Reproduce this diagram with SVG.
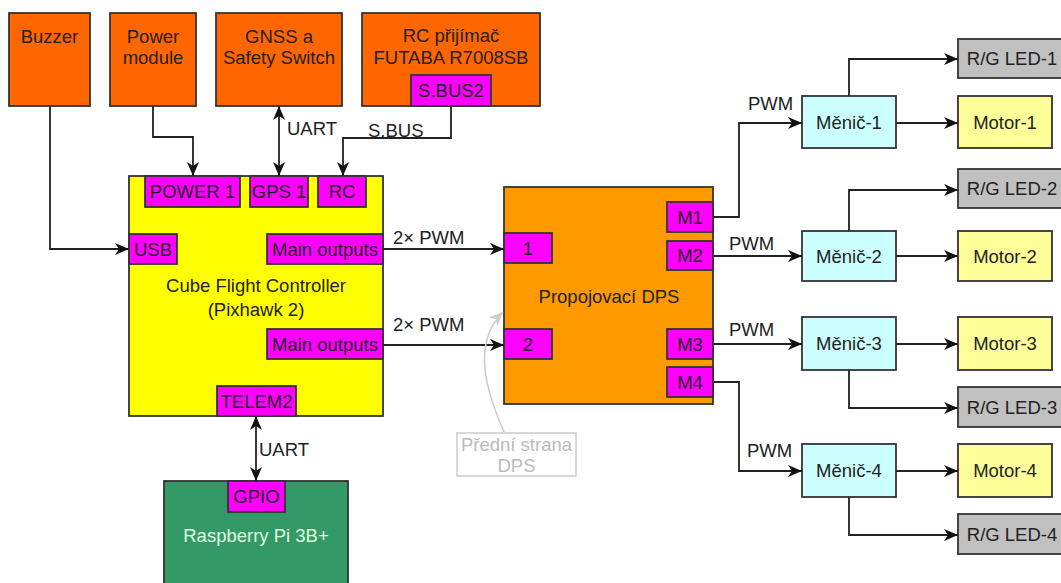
<svg xmlns="http://www.w3.org/2000/svg" width="1061" height="583" viewBox="0 0 1061 583">
<defs>
<style>
text{font-family:"Liberation Sans",Arial,sans-serif;font-size:18.5px;fill:#222;text-anchor:middle}
.box{stroke:#333;stroke-width:1.8}
.or{fill:#ff6600}
.port{fill:#ff00ff;stroke:#333;stroke-width:1.8}
.men{fill:#ccffff;stroke:#333;stroke-width:1.8}
.mot{fill:#ffff99;stroke:#333;stroke-width:1.8}
.led{fill:#c0c0c0;stroke:#333;stroke-width:1.8}
.c{fill:none;stroke:#222;stroke-width:1.8}
.lbl{text-anchor:start}
</style>
<marker id="arr" viewBox="0 0 14 12" refX="14" refY="6" markerWidth="14" markerHeight="12" orient="auto-start-reverse" markerUnits="userSpaceOnUse"><path d="M0,0 L14,6 L0,12 L4,6 Z" fill="#111"/></marker>
<marker id="garr" viewBox="0 0 14 12" refX="14" refY="6" markerWidth="14" markerHeight="12" orient="auto" markerUnits="userSpaceOnUse"><path d="M0,0 L14,6 L0,12 L4,6 Z" fill="#ccc"/></marker>
</defs>
<rect width="1061" height="583" fill="#fff"/>

<g id="buzzer"><rect class="box or" x="9" y="13" width="81" height="93"/><text x="49.5" y="43">Buzzer</text></g>
<g id="power-module"><rect class="box or" x="110" y="13" width="86" height="93"/><text x="153" y="43">Power</text><text x="153" y="64">module</text></g>
<g id="gnss"><rect class="box or" x="216" y="13" width="126" height="93"/><text x="279" y="43">GNSS a</text><text x="279" y="64">Safety Switch</text></g>
<g id="rc-receiver"><rect class="box or" x="362" y="13" width="178" height="93"/><text x="451" y="42">RC přijímač</text><text x="451" y="64">FUTABA R7008SB</text>
<rect class="port" x="411" y="75" width="80" height="31"/><text x="451" y="97">S.BUS2</text></g>

<g id="cube">
<rect class="box" fill="#ffff00" x="129" y="176" width="254" height="240"/>
<text x="256" y="292">Cube Flight Controller</text><text x="256" y="316">(Pixhawk 2)</text>
<rect class="port" x="145" y="176" width="95" height="31"/><text x="192.5" y="198">POWER 1</text>
<rect class="port" x="250" y="176" width="58" height="31"/><text x="279" y="198">GPS 1</text>
<rect class="port" x="318" y="176" width="48" height="31"/><text x="342" y="198">RC</text>
<rect class="port" x="129" y="234" width="48" height="30"/><text x="153" y="255.5">USB</text>
<rect class="port" x="267" y="234" width="116" height="30"/><text x="325" y="255.5">Main outputs</text>
<rect class="port" x="267" y="329" width="116" height="30"/><text x="325" y="350.5">Main outputs</text>
<rect class="port" x="217" y="386" width="79" height="30"/><text x="256.5" y="407.5">TELEM2</text>
</g>

<g id="dps">
<rect class="box" fill="#ff9900" x="504" y="187" width="209" height="217"/>
<text x="609" y="303">Propojovací DPS</text>
<rect class="port" x="504" y="233" width="48" height="30"/><text x="528" y="254.5">1</text>
<rect class="port" x="504" y="329" width="48" height="30"/><text x="528" y="350.5">2</text>
<rect class="port" x="667" y="202" width="46" height="30"/><text x="690" y="223.5">M1</text>
<rect class="port" x="667" y="241" width="46" height="29"/><text x="690" y="262">M2</text>
<rect class="port" x="667" y="329" width="46" height="30"/><text x="690" y="350.5">M3</text>
<rect class="port" x="667" y="367" width="46" height="30"/><text x="690" y="388.5">M4</text>
</g>

<g id="raspberry">
<rect class="box" fill="#339966" x="164" y="481" width="184" height="110"/>
<text x="256" y="542" style="fill:#ddffdd">Raspberry Pi 3B+</text>
<rect class="port" x="228" y="481" width="57" height="31"/><text x="256.5" y="503">GPIO</text>
</g>

<g id="menic-1"><rect class="men" x="802" y="96" width="94" height="52"/><text x="849" y="129">Měnič-1</text></g>
<g id="menic-2"><rect class="men" x="802" y="231" width="94" height="50"/><text x="849" y="262.5">Měnič-2</text></g>
<g id="menic-3"><rect class="men" x="802" y="317" width="94" height="53"/><text x="849" y="350">Měnič-3</text></g>
<g id="menic-4"><rect class="men" x="802" y="444" width="94" height="53"/><text x="849" y="477">Měnič-4</text></g>
<g id="motor-1"><rect class="mot" x="958" y="96" width="94" height="52"/><text x="1005" y="129">Motor-1</text></g>
<g id="motor-2"><rect class="mot" x="958" y="231" width="94" height="50"/><text x="1005" y="262.5">Motor-2</text></g>
<g id="motor-3"><rect class="mot" x="958" y="317" width="94" height="53"/><text x="1005" y="350">Motor-3</text></g>
<g id="motor-4"><rect class="mot" x="958" y="444" width="94" height="53"/><text x="1005" y="477">Motor-4</text></g>
<g id="led-1"><rect class="led" x="958" y="39" width="110" height="39"/><text x="1012" y="65">R/G LED-1</text></g>
<g id="led-2"><rect class="led" x="958" y="169" width="110" height="39"/><text x="1012" y="195">R/G LED-2</text></g>
<g id="led-3"><rect class="led" x="958" y="387" width="110" height="40"/><text x="1012" y="414">R/G LED-3</text></g>
<g id="led-4"><rect class="led" x="958" y="514" width="110" height="40"/><text x="1012" y="541">R/G LED-4</text></g>

<g id="note"><rect x="457" y="433" width="119" height="43" fill="#fff" stroke="#ccc" stroke-width="1.5"/>
<text x="516.5" y="451" style="fill:#bbb">Přední strana</text><text x="516.5" y="472" style="fill:#bbb">DPS</text></g>

<g id="connectors">
<path class="c" d="M50,106 V249 H129" marker-end="url(#arr)"/>
<path class="c" d="M153,106 V137 H193 V176" marker-end="url(#arr)"/>
<path class="c" d="M279,106 V176" marker-start="url(#arr)" marker-end="url(#arr)"/>
<path class="c" d="M451,106 V138 H343 V176" marker-end="url(#arr)"/>
<path class="c" d="M383,249 H504" marker-end="url(#arr)"/>
<path class="c" d="M383,345 H504" marker-end="url(#arr)"/>
<path class="c" d="M256,416 V481" marker-start="url(#arr)" marker-end="url(#arr)"/>
<path class="c" d="M713,217 H739 V123 H802" marker-end="url(#arr)"/>
<path class="c" d="M713,256 H802" marker-end="url(#arr)"/>
<path class="c" d="M713,344 H802" marker-end="url(#arr)"/>
<path class="c" d="M713,382 H739 V471 H802" marker-end="url(#arr)"/>
<path class="c" d="M896,123 H958" marker-end="url(#arr)"/>
<path class="c" d="M896,256 H958" marker-end="url(#arr)"/>
<path class="c" d="M896,344 H958" marker-end="url(#arr)"/>
<path class="c" d="M896,471 H958" marker-end="url(#arr)"/>
<path class="c" d="M849,96 V59 H958" marker-end="url(#arr)"/>
<path class="c" d="M849,231 V190 H958" marker-end="url(#arr)"/>
<path class="c" d="M849,370 V408 H958" marker-end="url(#arr)"/>
<path class="c" d="M849,497 V535 H958" marker-end="url(#arr)"/>
<path d="M504,432 C488,395 470,345 503,312" fill="none" stroke="#ccc" stroke-width="1.6" marker-end="url(#garr)"/>
<text class="lbl" x="287" y="135">UART</text>
<text class="lbl" x="368" y="137">S.BUS</text>
<text class="lbl" x="393" y="244">2× PWM</text>
<text class="lbl" x="393" y="331">2× PWM</text>
<text class="lbl" x="259" y="456">UART</text>
<text class="lbl" x="748" y="110">PWM</text>
<text class="lbl" x="729" y="250">PWM</text>
<text class="lbl" x="729" y="336">PWM</text>
<text class="lbl" x="747" y="457">PWM</text>
</g>
</svg>
